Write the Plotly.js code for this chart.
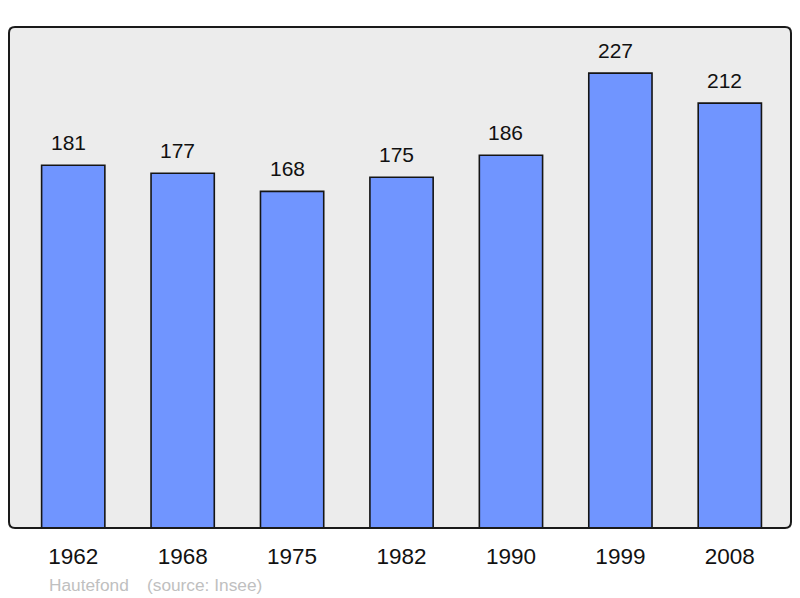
<!DOCTYPE html>
<html>
<head>
<meta charset="utf-8">
<script src="https://cdn.plot.ly/plotly-3.0.1.min.js"></script>
<style>
html,body{margin:0;padding:0;background:#fff;}
#chart{width:800px;height:598px;}
</style>
</head>
<body>
<div id="chart"></div>
<script>
const years = ["1962", "1968", "1975", "1982", "1990", "1999", "2008"];
const population = [181, 177, 168, 175, 186, 227, 212];
const commune = "Hautefond";
const source = "(source: Insee)";

const W = 800, H = 598;
const L = 9, R = 9, T = 27, B = 70;
const pw = W - L - R, ph = H - T - B;
const rpx = 6;
const rx = rpx / pw, ry = rpx / ph;

const framePath = [
  `M ${rx} 1`, `L ${1 - rx} 1`, `Q 1 1 1 ${1 - ry}`,
  `L 1 ${ry}`, `Q 1 0 ${1 - rx} 0`,
  `L ${rx} 0`, `Q 0 0 0 ${ry}`,
  `L 0 ${1 - ry}`, `Q 0 1 ${rx} 1`, 'Z'
].join(' ');

const annotations = years.map((y, i) => ({
  x: i, y: population[i], xref: 'x', yref: 'y',
  text: String(population[i]), showarrow: false,
  yanchor: 'bottom', xanchor: 'center', yshift: 9, xshift: -5,
  font: {family: 'Liberation Sans, Arial, sans-serif', size: 21, color: '#111'}
}));
annotations.push({
  xref: 'paper', yref: 'paper', x: 0, y: 0, xanchor: 'left', yanchor: 'top',
  xshift: 38, yshift: -45, showarrow: false, text: commune,
  font: {family: 'Liberation Sans, Arial, sans-serif', size: 17.3, color: '#c0c0c0'}
});
annotations.push({
  xref: 'paper', yref: 'paper', x: 0, y: 0, xanchor: 'left', yanchor: 'top',
  xshift: 136, yshift: -45, showarrow: false, text: source,
  font: {family: 'Liberation Sans, Arial, sans-serif', size: 17.3, color: '#c0c0c0'}
});

const trace = {
  type: 'bar', x: years, y: population, width: 0.578,
  marker: {color: '#7095ff', line: {color: '#151515', width: 1.6}},
  hoverinfo: 'none'
};

const layout = {
  width: W, height: H,
  margin: {l: L, r: R, t: T, b: B, pad: 0},
  paper_bgcolor: '#ffffff', plot_bgcolor: '#ececec',
  showlegend: false,
  bargap: 0.42,
  xaxis: {
    type: 'category', range: [-0.587, 6.559],
    showgrid: false, zeroline: false, showline: false, ticks: '',
    tickfont: {family: 'Liberation Sans, Arial, sans-serif', size: 22.5, color: '#111'},
    ticklabelstandoff: 12
  },
  yaxis: {
    range: [0, 250], showgrid: false, zeroline: false, showline: false,
    showticklabels: false, ticks: ''
  },
  shapes: [{
    type: 'path', xref: 'paper', yref: 'paper', path: framePath,
    line: {color: '#1a1a1a', width: 2}, fillcolor: 'rgba(0,0,0,0)', layer: 'above'
  }],
  annotations: annotations
};

Plotly.newPlot('chart', [trace], layout, {staticPlot: true, displayModeBar: false});
</script>
</body>
</html>
